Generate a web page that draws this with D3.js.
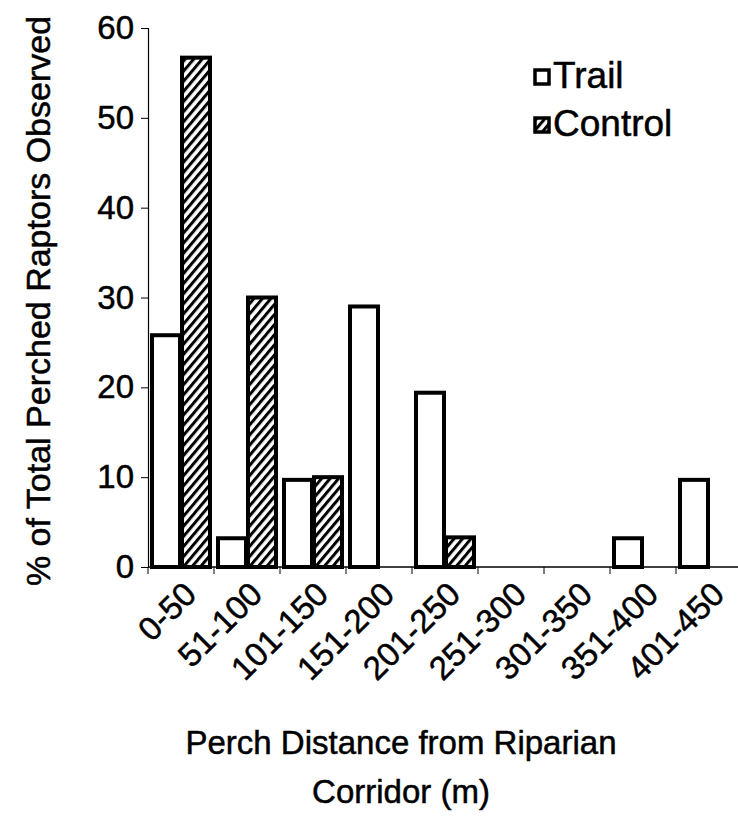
<!DOCTYPE html>
<html>
<head>
<meta charset="utf-8">
<script src="https://cdn.jsdelivr.net/npm/d3@7"></script>
<style>
  body { margin: 0; background: #fff; }
  text { font-family: "Liberation Sans", Arial, sans-serif; fill: #000; stroke: #000; stroke-width: 0.5px; }
</style>
</head>
<body>
<div id="chart"></div>
<script>
// perch distance classes (m)
var categories = ["0-50", "51-100", "101-150", "151-200", "201-250", "251-300", "301-350", "351-400", "401-450"];
var trail = [25.8, 3.2, 9.7, 29.0, 19.4, 0, 0, 3.2, 9.7];
var control = [56.7, 30.0, 10.0, 0, 3.3, 0, 0, 0, 0];
var seriesNames = ["Trail", "Control"];
var yTicks = [0, 10, 20, 30, 40, 50, 60];

var width = 738, height = 824;
var margin = {left: 148, right: -4, top: 28, bottom: 257};

var svg = d3.select("#chart").append("svg")
	.attr("width", width)
	.attr("height", height);

// diagonal hatch for control bars
var defs = svg.append("defs");
defs.append("pattern")
	.attr("id", "hatch")
	.attr("patternUnits", "userSpaceOnUse")
	.attr("width", 6.5)
	.attr("height", 10)
	.attr("patternTransform", "rotate(40)")
	.append("rect")
	.attr("x", 0).attr("y", 0)
	.attr("width", 3).attr("height", 10)
	.attr("fill", "#000");

var x = d3.scaleBand()
	.domain(categories)
	.range([margin.left, width - margin.right])
	.paddingInner(0)
	.paddingOuter(0);

var x1 = d3.scaleBand()
	.domain(seriesNames)
	.range([0, x.bandwidth()])
	.paddingOuter(0.1)
	.paddingInner(0);

var y = d3.scaleLinear()
	.domain([0, 60])
	.range([height - margin.bottom, margin.top]);

// bars
var rows = categories.map(function(c, i) {
	return {cat: c, values: [
		{key: "Trail", v: trail[i]},
		{key: "Control", v: control[i]}
	]};
});

var groups = svg.append("g").selectAll("g")
	.data(rows)
	.enter().append("g")
	.attr("transform", function(d) { return "translate(" + x(d.cat) + ",0)"; });

groups.selectAll("rect")
	.data(function(d) { return d.values.filter(function(e) { return e.v > 0; }); })
	.enter().append("rect")
	.attr("x", function(d) { return x1(d.key) + 1; })
	.attr("y", function(d) { return y(d.v); })
	.attr("width", x1.bandwidth() - 2)
	.attr("height", function(d) { return y(0) - y(d.v); })
	.attr("fill", function(d) { return d.key === "Trail" ? "#fff" : "url(#hatch)"; })
	.attr("stroke", "#000")
	.attr("stroke-width", 4);

// y axis
var yAxis = svg.append("g")
	.attr("transform", "translate(" + margin.left + ",0)")
	.call(d3.axisLeft(y).tickValues(yTicks).tickSize(7).tickPadding(7));
yAxis.select(".domain").attr("stroke-width", 1.2);
yAxis.selectAll("text").style("font-size", "33px").attr("fill", "#000");

// x axis, ticks at category boundaries
var xAxisG = svg.append("g")
	.attr("transform", "translate(0," + y(0) + ")");
xAxisG.append("line")
	.attr("x1", margin.left).attr("x2", width)
	.attr("stroke", "#000").attr("stroke-width", 1.5);
xAxisG.selectAll("line.tick")
	.data(categories)
	.enter().append("line")
	.attr("class", "tick")
	.attr("x1", function(d) { return x(d); })
	.attr("x2", function(d) { return x(d); })
	.attr("y1", 0).attr("y2", 7)
	.attr("stroke", "#000");
xAxisG.selectAll("text")
	.data(categories)
	.enter().append("text")
	.attr("transform", function(d) {
		return "translate(" + (x(d) + x.bandwidth() / 2 + 1) + ",13) rotate(-45)";
	})
	.attr("text-anchor", "end")
	.attr("dy", "0.7em")
	.style("font-size", "33px")
	.text(function(d) { return d; });

// axis titles
svg.append("text")
	.attr("transform", "translate(50," + 301 + ") rotate(-90)")
	.attr("text-anchor", "middle")
	.style("font-size", "34px")
	.text("% of Total Perched Raptors Observed");

svg.append("text")
	.attr("x", 401).attr("y", 754)
	.attr("text-anchor", "middle")
	.style("font-size", "33px")
	.text("Perch Distance from Riparian");
svg.append("text")
	.attr("x", 401).attr("y", 803)
	.attr("text-anchor", "middle")
	.style("font-size", "33px")
	.text("Corridor (m)");

// legend
var legend = svg.append("g").attr("transform", "translate(535,70)");
var li = legend.selectAll("g")
	.data(seriesNames)
	.enter().append("g")
	.attr("transform", function(d, i) { return "translate(0," + (i * 48) + ")"; });
li.append("rect")
	.attr("width", 14).attr("height", 14)
	.attr("fill", function(d) { return d === "Trail" ? "#fff" : "url(#hatch)"; })
	.attr("stroke", "#000")
	.attr("stroke-width", 3.5);
li.append("text")
	.attr("x", 18).attr("y", 18)
	.style("font-size", "37px")
	.text(function(d) { return d; });
</script>
</body>
</html>
